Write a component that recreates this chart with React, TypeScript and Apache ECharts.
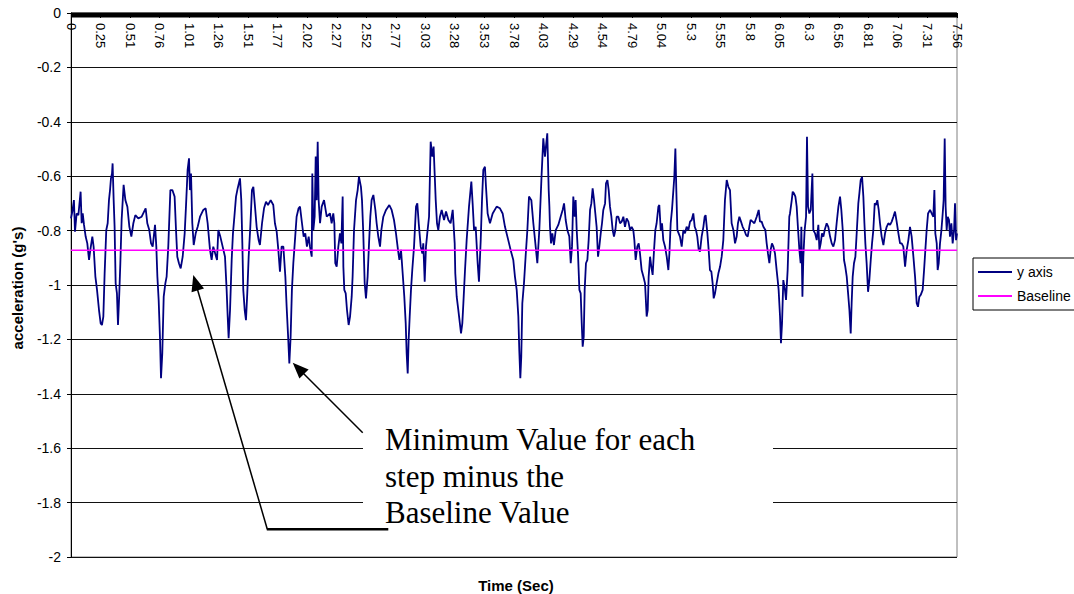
import React, { useEffect, useRef } from "react";
import * as echarts from "echarts";

// Category labels printed along the time axis (one every 0.252 s)
const tickLabels = [
  "0", "0.25", "0.51", "0.76", "1.01", "1.26", "1.51", "1.77", "2.02", "2.27",
  "2.52", "2.77", "3.03", "3.28", "3.53", "3.78", "4.03", "4.29", "4.54", "4.79",
  "5.04", "5.3", "5.55", "5.8", "6.05", "6.3", "6.56", "6.81", "7.06", "7.31", "7.56",
];
const tickStep = 0.252;

// Sample times (s)
const timeSec = [
  0.000, 0.011, 0.025, 0.034, 0.048, 0.063, 0.082, 0.091, 0.100, 0.111,
  0.125, 0.139, 0.154, 0.165, 0.182, 0.193, 0.208, 0.222, 0.239, 0.253,
  0.264, 0.276, 0.287, 0.301, 0.313, 0.324, 0.333, 0.341, 0.350, 0.355,
  0.364, 0.372, 0.381, 0.392, 0.401, 0.412, 0.421, 0.432, 0.449, 0.464,
  0.481, 0.498, 0.515, 0.532, 0.549, 0.574, 0.603, 0.637, 0.651, 0.668,
  0.683, 0.697, 0.717, 0.728, 0.737, 0.748, 0.759, 0.768, 0.779, 0.791,
  0.805, 0.816, 0.830, 0.848, 0.865, 0.884, 0.896, 0.907, 0.921, 0.936,
  0.953, 0.970, 0.981, 0.995, 1.007, 1.015, 1.024, 1.035, 1.047, 1.064,
  1.081, 1.101, 1.129, 1.149, 1.166, 1.186, 1.200, 1.214, 1.234, 1.246,
  1.257, 1.274, 1.294, 1.314, 1.328, 1.337, 1.345, 1.357, 1.371, 1.382,
  1.394, 1.408, 1.422, 1.442, 1.453, 1.462, 1.470, 1.482, 1.493, 1.504,
  1.516, 1.530, 1.544, 1.556, 1.570, 1.584, 1.601, 1.612, 1.630, 1.647,
  1.664, 1.681, 1.704, 1.726, 1.740, 1.755, 1.769, 1.783, 1.797, 1.812,
  1.829, 1.840, 1.854, 1.863, 1.874, 1.885, 1.897, 1.911, 1.925, 1.942,
  1.954, 1.971, 1.985, 1.999, 2.013, 2.028,
  2.039, 2.054, 2.059, 2.068, 2.079, 2.088, 2.096, 2.105, 2.113, 2.125,
  2.139, 2.159, 2.182, 2.210, 2.224, 2.238, 2.247, 2.255, 2.267, 2.281,
  2.295, 2.307, 2.318, 2.324, 2.332, 2.344, 2.355, 2.369, 2.381, 2.395,
  2.403, 2.415, 2.432, 2.446, 2.457, 2.474, 2.483, 2.494, 2.506, 2.517,
  2.531, 2.543, 2.554, 2.565, 2.580, 2.597, 2.608, 2.622, 2.637, 2.648,
  2.665, 2.688, 2.716, 2.736, 2.756, 2.773, 2.790, 2.802, 2.816, 2.830,
  2.844, 2.856, 2.864, 2.873, 2.881, 2.890, 2.901, 2.912, 2.927, 2.944,
  2.955, 2.967, 2.984, 2.998, 3.006, 3.018, 3.029, 3.040, 3.055, 3.069,
  3.083, 3.094, 3.103, 3.112, 3.123, 3.134, 3.148, 3.163, 3.183, 3.200,
  3.220, 3.239, 3.257, 3.274, 3.279, 3.291, 3.305, 3.328, 3.339, 3.348,
  3.362, 3.376, 3.396, 3.416, 3.427, 3.439, 3.453, 3.470, 3.481, 3.496,
  3.507, 3.518, 3.532, 3.541, 3.555, 3.575, 3.598, 3.632, 3.660, 3.683,
  3.703, 3.731, 3.751, 3.774, 3.788, 3.803, 3.817, 3.825, 3.834, 3.842,
  3.851, 3.865, 3.879, 3.894, 3.908, 3.928, 3.945, 3.965, 3.979, 3.996,
  4.016, 4.030, 4.044, 4.064, 4.076,
  4.082, 4.087, 4.096, 4.107, 4.121, 4.136, 4.158, 4.178, 4.195, 4.207,
  4.221, 4.235, 4.252, 4.264, 4.275, 4.286, 4.298, 4.306, 4.315, 4.326,
  4.338, 4.349, 4.358, 4.366, 4.375, 4.383, 4.394, 4.406, 4.417, 4.429,
  4.440, 4.451, 4.463, 4.474, 4.485, 4.497, 4.508, 4.520, 4.531, 4.542,
  4.557, 4.565, 4.577, 4.588, 4.599, 4.611, 4.622, 4.633, 4.645, 4.656,
  4.670, 4.685, 4.699, 4.713, 4.727, 4.741, 4.756, 4.770, 4.784, 4.798,
  4.807, 4.818, 4.832, 4.844, 4.855, 4.869, 4.884, 4.898, 4.912, 4.921,
  4.929, 4.941, 4.952, 4.963, 4.975, 4.986, 4.997, 5.012, 5.020, 5.032,
  5.043, 5.054, 5.069, 5.083, 5.097, 5.106, 5.117, 5.128, 5.140, 5.148,
  5.157, 5.165, 5.174, 5.185, 5.196, 5.211, 5.225, 5.239, 5.253, 5.268,
  5.282, 5.296, 5.310, 5.322, 5.333, 5.344, 5.356, 5.367, 5.381, 5.396,
  5.407, 5.415, 5.430, 5.441, 5.452, 5.464, 5.475, 5.484, 5.495, 5.509,
  5.524, 5.538, 5.552, 5.566, 5.580, 5.595, 5.609, 5.623, 5.637, 5.652,
  5.666, 5.680, 5.691, 5.703, 5.717, 5.731, 5.745, 5.760, 5.774, 5.788,
  5.799, 5.816, 5.831, 5.851, 5.868, 5.879, 5.893, 5.908, 5.925, 5.936,
  5.947, 5.959, 5.970, 5.981, 5.993, 6.007, 6.021, 6.030, 6.038, 6.050,
  6.058, 6.067, 6.078, 6.092, 6.101, 6.115, 6.129,
  6.135, 6.150, 6.158, 6.169, 6.181, 6.192, 6.204, 6.215, 6.226, 6.232,
  6.241, 6.249, 6.260, 6.272, 6.280, 6.289, 6.300, 6.312, 6.326, 6.334,
  6.349, 6.363, 6.377, 6.386, 6.397, 6.408, 6.420, 6.431, 6.448, 6.462,
  6.477, 6.491, 6.505, 6.519, 6.533, 6.548, 6.562, 6.573, 6.585, 6.596,
  6.607, 6.619, 6.633, 6.642, 6.653, 6.661, 6.670, 6.681, 6.693, 6.704,
  6.718, 6.727, 6.738, 6.750, 6.761, 6.770, 6.778, 6.789, 6.801, 6.812,
  6.824, 6.835, 6.846, 6.858, 6.869, 6.880, 6.892, 6.903, 6.917, 6.932,
  6.946, 6.960, 6.974, 6.989, 7.003, 7.017, 7.031, 7.045, 7.060, 7.074,
  7.088, 7.102, 7.117, 7.131, 7.145, 7.159, 7.173, 7.188, 7.202, 7.216,
  7.227, 7.239, 7.250, 7.267, 7.279, 7.290, 7.301, 7.313, 7.330, 7.344,
  7.358, 7.367, 7.375, 7.387, 7.395, 7.404, 7.415, 7.427, 7.438, 7.446,
  7.455, 7.463, 7.472, 7.481, 7.492, 7.500, 7.512, 7.523, 7.535, 7.543,
  7.552, 7.560,
];

// Vertical acceleration (g's) at each sample time
const accelG = [
  -0.755, -0.731, -0.688, -0.804, -0.737, -0.743, -0.657, -0.773, -0.737, -0.779,
  -0.822, -0.847, -0.908, -0.871, -0.822, -0.859, -0.969, -1.018, -1.092, -1.141,
  -1.147, -1.116, -0.957, -0.798, -0.773, -0.688, -0.651, -0.608, -0.590, -0.553,
  -0.688, -0.786, -0.994, -1.031, -1.147, -1.031, -0.920, -0.761, -0.632, -0.688,
  -0.712, -0.786, -0.822, -0.773, -0.743, -0.755, -0.749, -0.718, -0.773, -0.798,
  -0.847, -0.859, -0.779, -0.859, -0.969, -1.055, -1.190, -1.343, -1.251, -1.043,
  -0.994, -0.969, -0.859, -0.651, -0.651, -0.675, -0.798, -0.896, -0.920, -0.939,
  -0.896, -0.810, -0.712, -0.577, -0.534, -0.651, -0.590, -0.773, -0.853, -0.810,
  -0.786, -0.749, -0.724, -0.718, -0.773, -0.871, -0.908, -0.859, -0.890, -0.908,
  -0.798, -0.822, -0.859, -0.896, -1.018, -1.116, -1.196, -1.092, -0.908, -0.810,
  -0.749, -0.675, -0.645, -0.608, -0.688, -0.847, -1.018, -1.092, -1.129, -1.031,
  -0.896, -0.786, -0.651, -0.639, -0.712, -0.786, -0.835, -0.853, -0.773, -0.718,
  -0.694, -0.706, -0.688, -0.706, -0.773, -0.804, -0.871, -0.951, -0.859, -0.859,
  -0.969, -1.080, -1.202, -1.288, -1.190, -1.018, -0.920, -0.835, -0.749, -0.718,
  -0.712, -0.773, -0.822, -0.810, -0.859, -0.822,
  -0.859, -0.896, -0.590, -0.798, -0.749, -0.528, -0.688, -0.473, -0.688, -0.773,
  -0.712, -0.688, -0.749, -0.737, -0.773, -0.737, -0.773, -0.920, -0.933, -0.859,
  -0.810, -0.847, -0.675, -0.933, -1.018, -1.031, -1.092, -1.147, -1.116, -1.043,
  -0.969, -0.798, -0.688, -0.651, -0.602, -0.639, -0.688, -0.810, -0.994, -1.049,
  -0.969, -0.847, -0.749, -0.688, -0.669, -0.724, -0.773, -0.822, -0.859, -0.798,
  -0.749, -0.724, -0.706, -0.724, -0.761, -0.810, -0.871, -0.908, -0.871, -0.957,
  -1.043, -1.141, -1.251, -1.325, -1.202, -1.116, -1.018, -0.945, -0.859, -0.712,
  -0.700, -0.773, -0.859, -0.884, -0.847, -0.988, -0.859, -0.810, -0.749, -0.473,
  -0.528, -0.491, -0.590, -0.688, -0.773, -0.798, -0.749, -0.724, -0.761, -0.730,
  -0.761, -0.773, -0.724, -0.847, -0.957, -1.043, -1.092, -1.178, -1.141, -1.067,
  -0.945, -0.835, -0.712, -0.620, -0.700, -0.798, -0.786, -0.920, -0.988, -0.835,
  -0.688, -0.577, -0.565, -0.639, -0.737, -0.773, -0.737, -0.712, -0.718, -0.737,
  -0.786, -0.835, -0.871, -0.908, -0.969, -1.018, -1.116, -1.239, -1.343, -1.264,
  -1.067, -0.994, -0.896, -0.798, -0.675, -0.688, -0.773, -0.859, -0.920, -0.798,
  -0.590, -0.461, -0.528, -0.442, -0.651,
  -0.712, -0.786, -0.847, -0.810, -0.853, -0.798, -0.779, -0.749, -0.724, -0.700,
  -0.761, -0.798, -0.822, -0.920, -0.859, -0.675, -0.749, -0.688, -0.798, -0.884,
  -1.018, -1.031, -1.141, -1.227, -1.190, -1.018, -0.920, -0.908, -0.835, -0.724,
  -0.700, -0.645, -0.688, -0.737, -0.786, -0.896, -0.859, -0.810, -0.773, -0.724,
  -0.700, -0.626, -0.614, -0.651, -0.712, -0.749, -0.798, -0.822, -0.798, -0.749,
  -0.749, -0.773, -0.767, -0.749, -0.786, -0.755, -0.767, -0.798, -0.786, -0.798,
  -0.835, -0.908, -0.859, -0.847, -0.884, -0.945, -0.969, -0.994, -1.116, -1.092,
  -0.969, -0.896, -0.933, -0.963, -0.871, -0.798, -0.773, -0.712, -0.706, -0.798,
  -0.773, -0.835, -0.859, -0.896, -0.945, -0.884, -0.773, -0.724, -0.651, -0.602,
  -0.498, -0.651, -0.798, -0.810, -0.822, -0.859, -0.798, -0.810, -0.786, -0.798,
  -0.767, -0.761, -0.737, -0.786, -0.798, -0.822, -0.871, -0.877, -0.822, -0.786,
  -0.749, -0.743, -0.810, -0.871, -0.945, -0.951, -0.994, -1.049, -1.031, -0.994,
  -0.957, -0.933, -0.896, -0.835, -0.688, -0.614, -0.639, -0.651, -0.773, -0.798,
  -0.847, -0.822, -0.773, -0.749, -0.767, -0.786, -0.798, -0.816, -0.822, -0.786,
  -0.761, -0.767, -0.773, -0.749, -0.724, -0.767, -0.767, -0.786, -0.798, -0.847,
  -0.884, -0.920, -0.871, -0.847, -0.859, -0.884, -0.945, -0.982, -1.018, -1.116,
  -1.214, -1.141, -0.982, -1.018, -1.055, -0.945, -0.749,
  -0.737, -0.688, -0.657, -0.663, -0.675, -0.712, -0.798, -0.871, -0.920, -0.786,
  -1.043, -0.896, -0.798, -0.749, -0.455, -0.712, -0.737, -0.724, -0.590, -0.798,
  -0.810, -0.835, -0.779, -0.871, -0.847, -0.810, -0.822, -0.798, -0.773, -0.786,
  -0.822, -0.847, -0.859, -0.835, -0.773, -0.712, -0.675, -0.724, -0.798, -0.908,
  -0.933, -0.969, -1.043, -1.092, -1.178, -1.067, -0.969, -0.920, -0.896, -0.810,
  -0.700, -0.663, -0.614, -0.602, -0.675, -0.773, -0.847, -0.920, -1.025, -0.982,
  -0.908, -0.847, -0.798, -0.700, -0.706, -0.688, -0.724, -0.773, -0.822, -0.853,
  -0.810, -0.786, -0.773, -0.779, -0.767, -0.749, -0.730, -0.767, -0.810, -0.847,
  -0.847, -0.859, -0.933, -0.871, -0.835, -0.786, -0.822, -0.896, -0.969, -1.067,
  -1.080, -1.043, -1.037, -1.018, -0.945, -0.871, -0.798, -0.737, -0.724, -0.737,
  -0.749, -0.651, -0.810, -0.847, -0.945, -0.920, -0.847, -0.798, -0.737, -0.688,
  -0.461, -0.712, -0.798, -0.749, -0.761, -0.822, -0.773, -0.847, -0.798, -0.700,
  -0.835, -0.810,
];

// Resting (baseline) acceleration level
const baselineG = -0.872;

const SANS = '"Liberation Sans", Arial, sans-serif';
const SERIF = '"Liberation Serif", "Times New Roman", serif';

function arrowHead(tip: [number, number], from: [number, number], len: number, half: number) {
  const dx = tip[0] - from[0];
  const dy = tip[1] - from[1];
  const d = Math.hypot(dx, dy);
  const ux = dx / d;
  const uy = dy / d;
  const bx = tip[0] - ux * len;
  const by = tip[1] - uy * len;
  return [
    tip,
    [bx - uy * half, by + ux * half],
    [bx + uy * half, by - ux * half],
  ];
}

export default function App() {
  const ref = useRef<HTMLDivElement>(null);

  useEffect(() => {
    if (!ref.current) return;
    const chart = echarts.init(ref.current, undefined, { renderer: "svg" });

    const tip1: [number, number] = [292.7, 362.7];
    const tail1: [number, number] = [362.7, 432.7];
    const tip2: [number, number] = [193.3, 275];
    const corner2: [number, number] = [267.3, 529.3];

    chart.setOption({
      animation: false,
      textStyle: { fontFamily: SANS },
      grid: {
        left: 71,
        top: 13,
        width: 886,
        height: 544,
        show: true,
        borderColor: "#808080",
        borderWidth: 1,
      },
      xAxis: {
        type: "value",
        min: 0,
        max: 7.56,
        interval: tickStep,
        // the time axis sits on the zero line, which is the top of the plot
        position: "top",
        axisLine: { onZero: false, lineStyle: { color: "#000", width: 1 } },
        axisTick: { show: true, inside: true, length: 5, lineStyle: { color: "#000", width: 1 } },
        minorTick: { show: false },
        splitLine: { show: false },
        minorSplitLine: { show: false },
        axisLabel: {
          inside: true,
          rotate: 90,
          margin: 10,
          fontSize: 13,
          color: "#000",
          fontFamily: SANS,
          showMinLabel: true,
          showMaxLabel: true,
          formatter: (v: number) => tickLabels[Math.round(v / tickStep)] ?? "",
        },
      },
      yAxis: {
        type: "value",
        min: -2,
        max: 0,
        interval: 0.2,
        axisLine: { show: true, onZero: false, lineStyle: { color: "#000", width: 1 } },
        axisTick: { show: true, length: 4, lineStyle: { color: "#000" } },
        splitLine: { show: true, lineStyle: { color: "#111", width: 1 } },
        axisLabel: { fontSize: 14, color: "#000", margin: 10, fontFamily: SANS },
      },
      legend: {
        orient: "vertical",
        left: 973,
        top: 258,
        padding: [7, 14, 7, 5],
        itemGap: 10,
        itemWidth: 34,
        itemHeight: 2,
        icon: "rect",
        selectedMode: false,
        borderColor: "#000",
        borderWidth: 1,
        backgroundColor: "#fff",
        textStyle: { fontSize: 14, color: "#000", fontFamily: SANS },
        data: ["y axis", "Baseline"],
      },
      series: [
        {
          name: "y axis",
          type: "line",
          data: timeSec.map((t, i) => [t, accelG[i]]),
          symbol: "none",
          showSymbol: false,
          lineStyle: { color: "#000080", width: 1.8 },
          itemStyle: { color: "#000080" },
          z: 3,
        },
        {
          name: "Baseline",
          type: "line",
          data: [
            [timeSec[0], baselineG],
            [timeSec[timeSec.length - 1], baselineG],
          ],
          symbol: "none",
          showSymbol: false,
          lineStyle: { color: "#FF00FF", width: 1.5 },
          itemStyle: { color: "#FF00FF" },
          z: 4,
        },
      ],
      graphic: [
        // the per-sample tick marks of the time axis merge into a solid band
        {
          type: "rect",
          z: 50,
          shape: { x: 71, y: 12.5, width: 886, height: 5 },
          style: { fill: "#000" },
        },
        {
          type: "text",
          x: 17,
          y: 288,
          rotation: Math.PI / 2,
          z: 100,
          style: {
            text: "acceleration (g's)",
            fontSize: 15,
            fontWeight: "bold",
            fontFamily: SANS,
            fill: "#000",
            align: "center",
            verticalAlign: "middle",
          },
        },
        {
          type: "text",
          x: 516,
          y: 585,
          z: 100,
          style: {
            text: "Time (Sec)",
            fontSize: 15,
            fontWeight: "bold",
            fontFamily: SANS,
            fill: "#000",
            align: "center",
            verticalAlign: "middle",
          },
        },
        {
          type: "rect",
          z: 100,
          shape: { x: 363, y: 418, width: 410, height: 124 },
          style: { fill: "#fff" },
        },
        ...["Minimum Value for each", "step minus the", "Baseline Value"].map((line, i) => ({
          type: "text",
          x: 385,
          y: 439.5 + i * 36.7,
          z: 101,
          style: {
            text: line,
            fontSize: 31,
            fontFamily: SERIF,
            fill: "#000",
            align: "left",
            verticalAlign: "middle",
          },
        })),
        {
          type: "line",
          z: 102,
          shape: { x1: tail1[0], y1: tail1[1], x2: tip1[0] + 6, y2: tip1[1] + 6 },
          style: { stroke: "#000", lineWidth: 1.5 },
        },
        {
          type: "polygon",
          z: 102,
          shape: { points: arrowHead(tip1, tail1, 16, 6.5) },
          style: { fill: "#000" },
        },
        {
          type: "polyline",
          z: 102,
          shape: { points: [corner2, [tip2[0] + 2, tip2[1] + 7]] },
          style: { stroke: "#000", lineWidth: 1.5, fill: null },
        },
        {
          type: "line",
          z: 102,
          shape: { x1: corner2[0] - 0.5, y1: corner2[1], x2: 388.3, y2: corner2[1] },
          style: { stroke: "#000", lineWidth: 2.5 },
        },
        {
          type: "polygon",
          z: 102,
          shape: { points: arrowHead(tip2, corner2, 16, 6.5) },
          style: { fill: "#000" },
        },
      ],
    });

    return () => chart.dispose();
  }, []);

  return (
    <div
      ref={ref}
      style={{ position: "fixed", left: 0, top: 0, width: 1074, height: 594, background: "#fff" }}
    />
  );
}
